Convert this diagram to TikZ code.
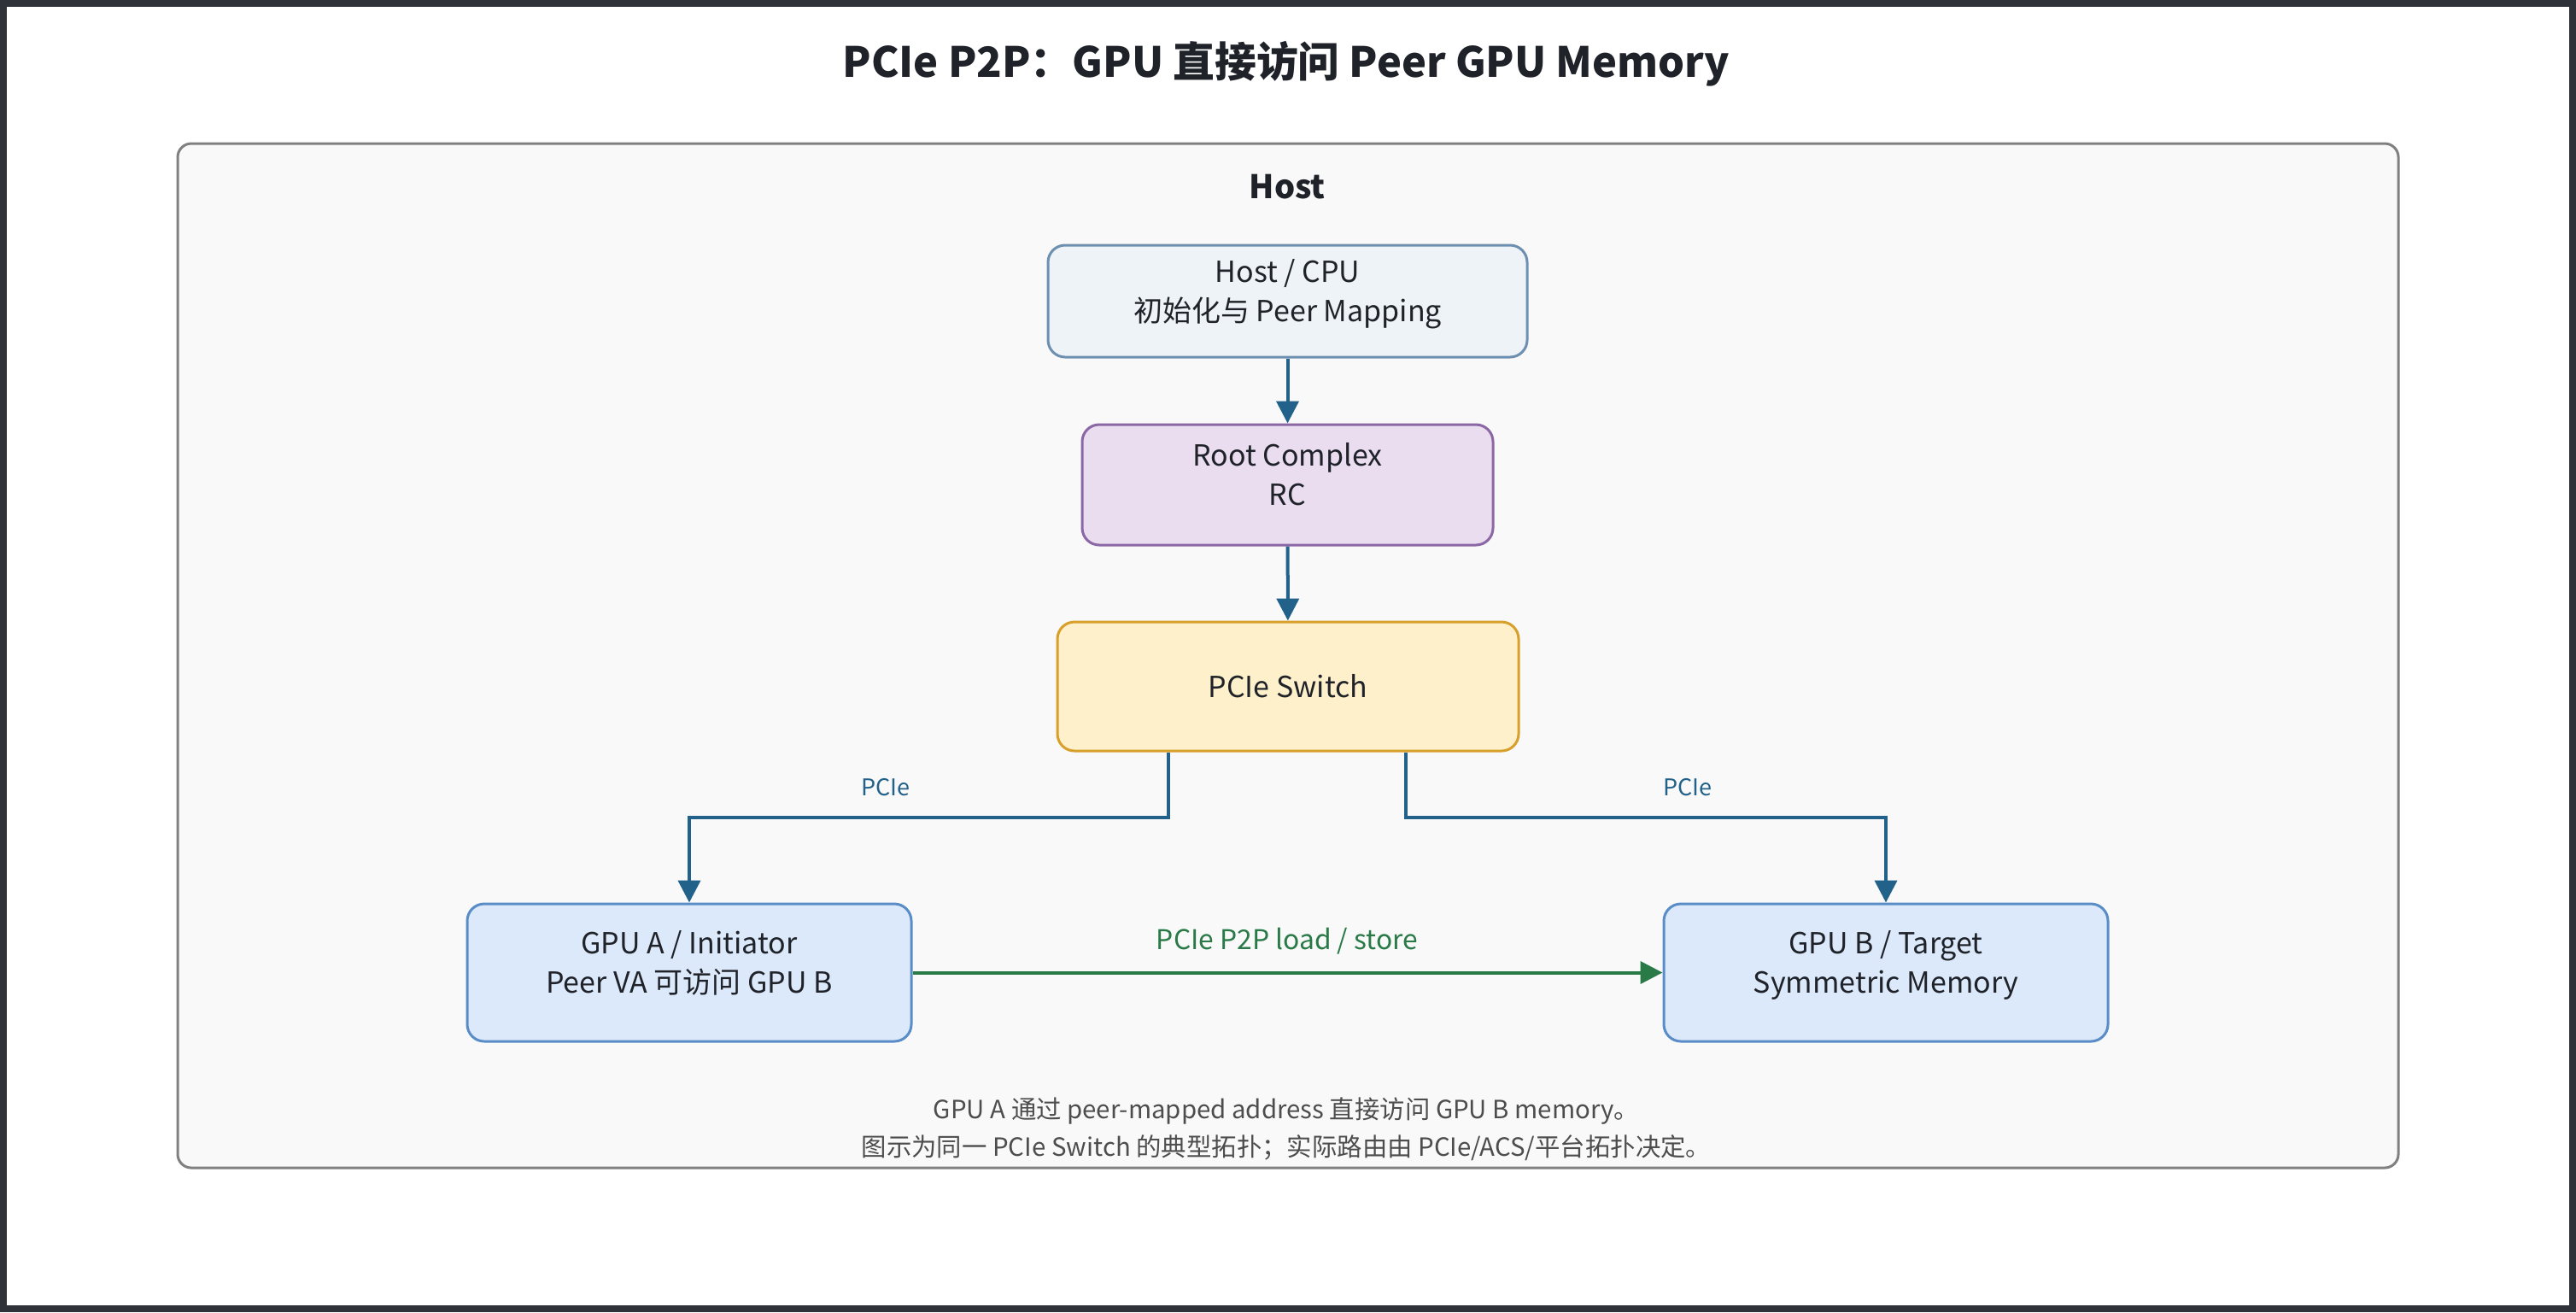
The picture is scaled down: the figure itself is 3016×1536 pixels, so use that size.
\documentclass[tikz,border=0pt]{standalone}
\usepackage{fontspec}
\setmainfont{Noto Sans CJK SC}
\usetikzlibrary{arrows.meta}
\definecolor{frame}{HTML}{2F3238}
\definecolor{ink}{HTML}{1F2329}
\definecolor{hostfill}{HTML}{F9F9F9}
\definecolor{hostline}{HTML}{808080}
\definecolor{cpufill}{HTML}{EEF3F8}
\definecolor{cpuline}{HTML}{6E90B0}
\definecolor{rcfill}{HTML}{EADDF0}
\definecolor{rcline}{HTML}{8C67A6}
\definecolor{swfill}{HTML}{FEF0CA}
\definecolor{swline}{HTML}{D99F2B}
\definecolor{gpufill}{HTML}{DCE9FA}
\definecolor{gpuline}{HTML}{5A8DC8}
\definecolor{linkblue}{HTML}{22628A}
\definecolor{p2pgreen}{HTML}{2A7A48}
\definecolor{notegray}{HTML}{4D4D4D}
\begin{document}
\begin{tikzpicture}[x=0.25pt,y=-0.25pt,
	blk/.style={draw,rounded corners=5pt,line width=0.75pt,align=center,text=ink,inner sep=0pt,
		font=\fontsize{8.5pt}{11.6pt}\selectfont},
	twoline/.style={execute at begin node={\rule{0pt}{7pt}},execute at end node={\rule[-6.2pt]{0pt}{6.2pt}}},
	pcie/.style={linkblue,line width=1pt,-{Triangle[length=6.5pt,width=6.5pt]}},
	p2p/.style={p2pgreen,line width=1pt,-{Triangle[length=6.5pt,width=6.5pt]}},
	lbl/.style={inner sep=0pt,font=\fontsize{6.75pt}{8pt}\selectfont}]
	%Khung
	\fill[frame] (0,0) rectangle (3016,1536);
	\fill[white] (8,8) rectangle (3008,1528);
	\useasboundingbox (0,0) rectangle (3016,1536);
	\node[inner sep=0pt,text=ink,font=\fontsize{12.2pt}{15pt}\selectfont\bfseries] (title) at (1506,75) {PCIe P2P：GPU 直接访问 Peer GPU Memory};
	%Host
	\draw[draw=hostline,fill=hostfill,line width=0.75pt,rounded corners=4pt] (208,168) rectangle (2808,1367);
	\node[inner sep=0pt,text=ink,font=\fontsize{9.5pt}{11pt}\selectfont\bfseries] (hostlbl) at (1507,219) {Host};
	%Khoi
	\node[blk,twoline,draw=cpuline,fill=cpufill,minimum width=140.25pt,minimum height=32.75pt] (cpu) at (1507.5,352.5) {Host / CPU\\初始化与 Peer Mapping};
	\node[blk,twoline,draw=rcline,fill=rcfill,minimum width=120.25pt,minimum height=35.25pt] (rc) at (1507.5,567.5) {Root Complex\\RC};
	\node[blk,draw=swline,fill=swfill,minimum width=135pt,minimum height=37.75pt] (sw) at (1508,803.5) {PCIe Switch};
	\node[blk,twoline,draw=gpuline,fill=gpufill,minimum width=130pt,minimum height=40.25pt] (gpua) at (807,1138.5) {GPU A / Initiator\\Peer VA 可访问 GPU B};
	\node[blk,twoline,draw=gpuline,fill=gpufill,minimum width=130pt,minimum height=40.25pt] (gpub) at (2208,1138.5) {GPU B / Target\\Symmetric Memory};
	%Duong
	\draw[pcie] (cpu) -- (rc);
	\draw[pcie] (rc) -- (sw);
	\draw[pcie] ([xshift=-35pt]sw.south) |- ([yshift=25pt]gpua.north) -- (gpua.north);
	\draw[pcie] ([xshift=34.5pt]sw.south) |- ([yshift=25pt]gpub.north) -- (gpub.north);
	\draw[p2p] (gpua) -- (gpub);
	\node[lbl,text=linkblue] (pcieA) at (1037,922) {PCIe};
	\node[lbl,text=linkblue] (pcieB) at (1976,922) {PCIe};
	\node[lbl,text=p2pgreen,font=\fontsize{7.95pt}{9pt}\selectfont] (p2ptxt) at (1507,1102) {PCIe P2P load / store};
	%Ghi chu
	\node[lbl,text=notegray,align=center,font=\fontsize{7.35pt}{11pt}\selectfont] (note) at (1506,1322) {GPU A 通过 peer-mapped address 直接访问 GPU B memory。\\图示为同一 PCIe Switch 的典型拓扑；实际路由由 PCIe/ACS/平台拓扑决定。};
\end{tikzpicture}
\end{document}
